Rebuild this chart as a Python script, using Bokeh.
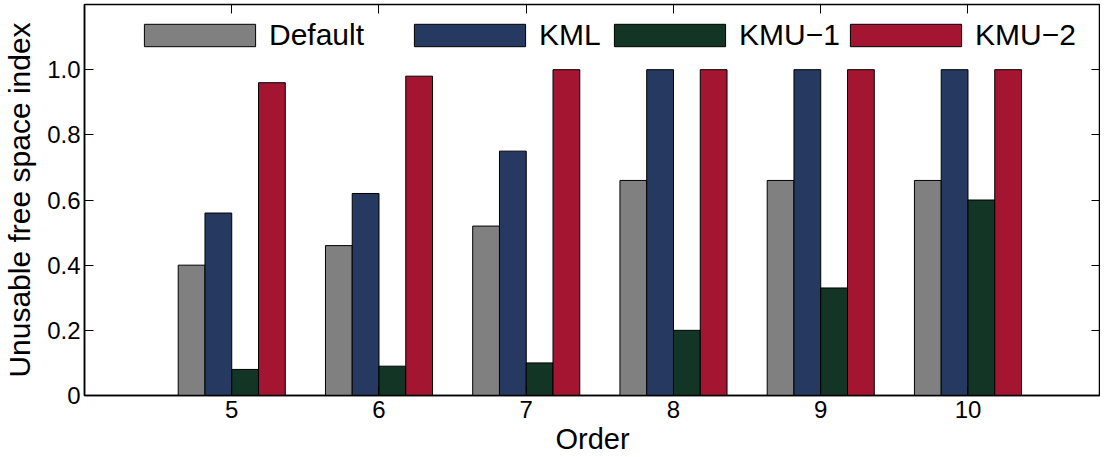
from bokeh.plotting import figure
from bokeh.models import Range1d, FixedTicker, LinearAxis, Legend, LegendItem, ColumnDataSource
from bokeh.transform import dodge
from bokeh.embed import file_html
from bokeh.resources import INLINE

orders = [5, 6, 7, 8, 9, 10]
default = [0.40, 0.46, 0.52, 0.66, 0.66, 0.66]
kml = [0.56, 0.62, 0.75, 1.0, 1.0, 1.0]
kmu1 = [0.08, 0.09, 0.10, 0.20, 0.33, 0.60]
kmu2 = [0.96, 0.98, 1.0, 1.0, 1.0, 1.0]
series_names = ["Default", "KML", "KMU\u22121", "KMU\u22122"]
series_colors = ["#808080", "#263960", "#133526", "#a31530"]
y_ticks = [0, 0.2, 0.4, 0.6, 0.8, 1.0]
y_tick_labels = ["0", "0.2", "0.4", "0.6", "0.8", "1.0"]

FONT = "Liberation Sans"

src = ColumnDataSource(dict(order=orders, d=default, kml=kml, k1=kmu1, k2=kmu2))

W, H = 1100, 457
p = figure(width=W, height=H, output_backend="svg", toolbar_location=None,
           x_range=Range1d(4, 10.9), y_range=Range1d(0, 1.2),
           min_border_left=74, min_border_right=0, min_border_top=4, min_border_bottom=0)
p.xgrid.visible = False
p.ygrid.visible = False
p.outline_line_color = "black"
p.outline_line_width = 1.5
p.background_fill_color = "white"
p.border_fill_color = "white"

bw = 0.1818
offsets = [-1.5 * bw, -0.5 * bw, 0.5 * bw, 1.5 * bw]
cols = ["d", "kml", "k1", "k2"]
renderers = []
for col, off, c in zip(cols, offsets, series_colors):
    r = p.vbar(x=dodge("order", off, range=p.x_range), top=col, bottom=0, width=bw,
               source=src, fill_color=c, line_color="black", line_width=1)
    renderers.append(r)

for ax in [p.xaxis[0], p.yaxis[0]]:
    ax.major_tick_in = 9
    ax.major_tick_out = 0
    ax.minor_tick_line_color = None
    ax.axis_line_color = "black"
    ax.axis_line_width = 1.5
    ax.major_tick_line_color = "black"
    ax.major_label_text_font = FONT
    ax.major_label_text_font_size = "24px"
    ax.major_label_text_color = "black"
    ax.axis_label_text_font = FONT
    ax.axis_label_text_font_size = "29px"
    ax.axis_label_text_font_style = "normal"
    ax.axis_label_text_color = "black"

p.xaxis.ticker = FixedTicker(ticks=orders)
p.xaxis.axis_label = "Order"
p.xaxis.major_label_standoff = 5
p.xaxis.axis_label_standoff = 2
p.yaxis.ticker = FixedTicker(ticks=y_ticks)
p.yaxis.major_label_overrides = {t: l for t, l in zip(y_ticks, y_tick_labels)}
p.yaxis.axis_label = "Unusable free space index"
p.yaxis.axis_label_text_font_size = "30px"
p.yaxis.major_label_standoff = 4
p.yaxis.axis_label_standoff = 8

top_ax = LinearAxis(ticker=FixedTicker(ticks=orders), major_tick_in=9, major_tick_out=0,
                    minor_tick_line_color=None, axis_line_color=None, major_label_standoff=0,
                    major_label_overrides={t: "" for t in orders}, major_tick_line_color="black")
right_ax = LinearAxis(ticker=FixedTicker(ticks=y_ticks), major_tick_in=9, major_tick_out=0,
                      minor_tick_line_color=None, axis_line_color=None, major_label_standoff=0,
                      major_label_overrides={t: "" for t in y_ticks}, major_tick_line_color="black")
p.add_layout(top_ax, "above")
p.add_layout(right_ax, "right")

frame_h = 391
patch_lefts = [144, 414, 614, 850]
for name, r, pl in zip(series_names, renderers, patch_lefts):
    lg = Legend(items=[LegendItem(label=name, renderers=[r])],
                location=(pl - 16 - 82, frame_h - 20 - 28),
                glyph_width=139, glyph_height=28, label_height=28,
                label_standoff=-6, padding=0, margin=0, spacing=0,
                border_line_color=None, background_fill_alpha=0,
                label_text_font=FONT, label_text_font_size="30px",
                label_text_color="black", label_text_baseline="middle")
    p.add_layout(lg)

open("out.html", "w").write(file_html(p, INLINE))
